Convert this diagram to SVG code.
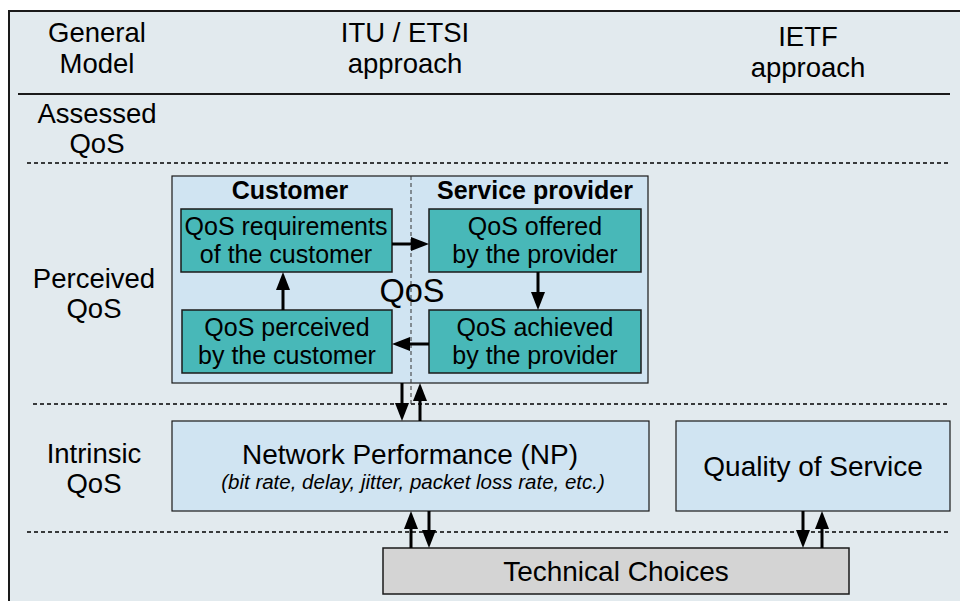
<svg xmlns="http://www.w3.org/2000/svg" width="960" height="601" viewBox="0 0 960 601">
  <defs>
    <!-- filled arrowhead; tip sits 8px beyond the end of the line -->
    <marker id="ah" viewBox="0 0 18 14" refX="10" refY="7" markerWidth="18" markerHeight="14" orient="auto" markerUnits="userSpaceOnUse">
      <path d="M0,0 L18,7 L0,14 z" fill="#000"/>
    </marker>
    <style>
      text { font-family: "Liberation Sans", Arial, sans-serif; fill: #000; }
      .hdr { font-size: 27.5px; text-anchor: middle; }
      .lbl { font-size: 25px; text-anchor: middle; }
      .bold { font-size: 25px; font-weight: bold; text-anchor: middle; }
      .sub { font-size: 20.5px; font-style: italic; text-anchor: middle; }
      .big { font-size: 28px; text-anchor: middle; }
      .dot { stroke: #000; stroke-width: 1.5; stroke-dasharray: 4 3; fill: none; }
      .teal { fill: #48b8b8; stroke: #1a1a1a; stroke-width: 1.5; }
      .blue { fill: #d0e4f2; stroke: #1a1a1a; stroke-width: 1.2; }
      .grey { fill: #d4d4d4; stroke: #1a1a1a; stroke-width: 1.5; }
      .arr { stroke: #000; stroke-width: 3; fill: none; marker-end: url(#ah); }
    </style>
  </defs>

  <!-- page and frame -->
  <rect x="0" y="0" width="960" height="601" fill="#fff"/>
  <rect x="9" y="11" width="960" height="600" fill="#e2eaee" stroke="#1a1a1a" stroke-width="2"/>

  <!-- column headers -->
  <g id="headers">
    <text class="hdr" x="97" y="42">General</text>
    <text class="hdr" x="97" y="73">Model</text>
    <text class="hdr" x="405" y="42">ITU / ETSI</text>
    <text class="hdr" x="405" y="73">approach</text>
    <text class="hdr" x="808" y="46">IETF</text>
    <text class="hdr" x="808" y="77">approach</text>
  </g>
  <line x1="18" y1="94" x2="950" y2="94" stroke="#1a1a1a" stroke-width="2"/>

  <!-- row labels -->
  <g id="rows">
    <text class="hdr" x="97" y="123">Assessed</text>
    <text class="hdr" x="97" y="153">QoS</text>
    <text class="hdr" x="94" y="288">Perceived</text>
    <text class="hdr" x="94" y="318">QoS</text>
    <text class="hdr" x="94" y="463">Intrinsic</text>
    <text class="hdr" x="94" y="493">QoS</text>
  </g>

  <!-- row separators -->
  <line class="dot" x1="27" y1="163" x2="950" y2="163"/>
  <line class="dot" x1="33" y1="404" x2="950" y2="404"/>
  <line class="dot" x1="27" y1="532" x2="950" y2="532"/>

  <!-- perceived QoS panel -->
  <g id="perceived">
    <rect class="blue" x="172" y="176" width="476" height="207"/>
    <line x1="411" y1="176" x2="411" y2="405" stroke="#333" stroke-width="1" stroke-dasharray="4 3"/>
    <text class="bold" x="290" y="199">Customer</text>
    <text class="bold" x="535" y="199">Service provider</text>
    <text x="412" y="302" font-size="32.5" text-anchor="middle">QoS</text>
  </g>

  <g id="requirements">
    <rect class="teal" x="181" y="209" width="211" height="63"/>
    <text class="lbl" x="286" y="235">QoS requirements</text>
    <text class="lbl" x="286" y="263">of the customer</text>
  </g>
  <g id="offered">
    <rect class="teal" x="429" y="209" width="212" height="63"/>
    <text class="lbl" x="535" y="235">QoS offered</text>
    <text class="lbl" x="535" y="263">by the provider</text>
  </g>
  <g id="perceived-by-customer">
    <rect class="teal" x="182" y="310" width="210" height="63"/>
    <text class="lbl" x="287" y="336">QoS perceived</text>
    <text class="lbl" x="287" y="364">by the customer</text>
  </g>
  <g id="achieved">
    <rect class="teal" x="429" y="310" width="212" height="63"/>
    <text class="lbl" x="535" y="336">QoS achieved</text>
    <text class="lbl" x="535" y="364">by the provider</text>
  </g>

  <!-- intrinsic QoS -->
  <g id="np">
    <rect class="blue" x="172" y="421" width="477" height="90"/>
    <text class="big" x="410" y="464">Network Performance (NP)</text>
    <text class="sub" x="413" y="489">(bit rate, delay, jitter, packet loss rate, etc.)</text>
  </g>
  <g id="ietf-qos">
    <rect class="blue" x="676" y="421" width="274" height="90"/>
    <text class="big" x="813" y="476">Quality of Service</text>
  </g>

  <g id="technical">
    <rect class="grey" x="383" y="548" width="466" height="46"/>
    <text class="big" x="616" y="581">Technical Choices</text>
  </g>

  <!-- connectors (line ends 8px short of the target; the arrowhead covers the gap) -->
  <g id="connectors">
    <line class="arr" x1="392" y1="244" x2="421" y2="244"/>
    <line class="arr" x1="538" y1="272" x2="538" y2="302"/>
    <line class="arr" x1="429" y1="344" x2="400" y2="344"/>
    <line class="arr" x1="283" y1="310" x2="283" y2="280"/>

    <line class="arr" x1="402" y1="383" x2="402" y2="413"/>
    <line class="arr" x1="420" y1="421" x2="420" y2="391"/>

    <line class="arr" x1="411" y1="548" x2="411" y2="519"/>
    <line class="arr" x1="429" y1="511" x2="429" y2="540"/>

    <line class="arr" x1="803" y1="511" x2="803" y2="540"/>
    <line class="arr" x1="822" y1="548" x2="822" y2="519"/>
  </g>
</svg>
